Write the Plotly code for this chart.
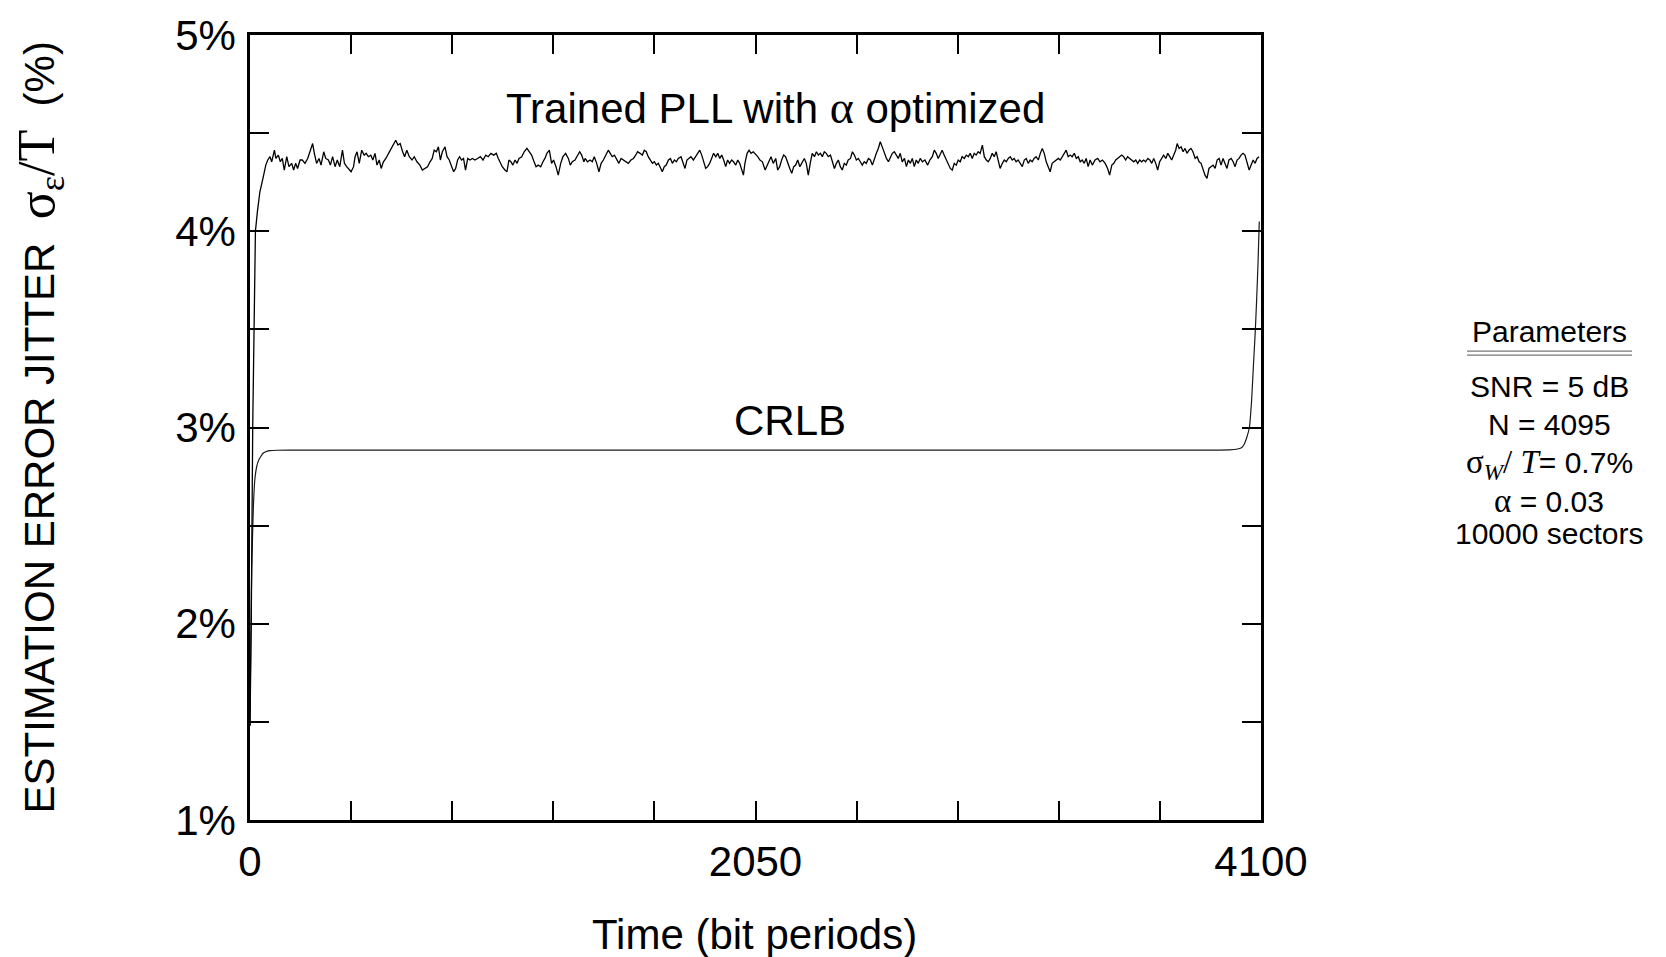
import plotly.graph_objects as go

# ---------------- data ----------------
pll_x = [
    0, 5, 11, 16, 22, 30, 40,
    54, 64, 72, 81, 88, 99, 105, 115, 123, 131,
    139, 149, 158, 169, 177, 185, 193, 203, 212, 223,
    234, 244, 254, 261, 270, 280, 288, 299, 307, 318,
    326, 335, 345, 354, 364, 375, 383, 392, 402, 410,
    420, 426, 434, 443, 453, 463, 471, 480, 490, 498,
    507, 515, 524, 532, 541, 551, 562, 572, 582, 591,
    600, 609, 619, 627, 636, 646, 657, 666, 677,
    689, 699, 710, 720, 730, 739, 747, 756, 764, 772,
    780, 791, 799, 808, 818, 826, 834, 842, 850, 858,
    866, 874, 883, 892, 902, 912, 923, 934, 945, 956,
    966, 977, 988, 999, 1007, 1015, 1023, 1034, 1042, 1050,
    1058, 1066, 1075, 1083, 1091, 1102, 1112, 1123, 1133, 1142,
    1152, 1160, 1169, 1179, 1188, 1196, 1204, 1214, 1223, 1231,
    1241, 1250, 1260, 1269, 1280, 1291, 1299, 1307, 1318, 1327,
    1337, 1345, 1354,
    1359, 1369, 1379, 1388, 1396, 1406, 1415, 1424, 1433, 1442,
    1453, 1461, 1469, 1478, 1487, 1496, 1505, 1514, 1524, 1534,
    1545, 1555, 1564, 1572, 1582, 1591, 1599, 1607, 1615, 1624,
    1632, 1640, 1648, 1656, 1664, 1672, 1680, 1688, 1697, 1705,
    1713, 1721, 1729, 1737, 1748, 1756, 1764, 1772, 1780, 1788,
    1798, 1807, 1815, 1824, 1832, 1840, 1848, 1856, 1864, 1872,
    1880, 1889, 1897, 1905, 1913, 1921, 1929, 1937, 1945, 1953,
    1961, 1970, 1978, 1986, 1994, 2001, 2007, 2016, 2024, 2032,
    2041,
    2048, 2059, 2068, 2078, 2089, 2097, 2105, 2113, 2122, 2132,
    2140, 2148, 2156, 2164, 2172, 2180, 2189, 2197, 2205, 2213,
    2221, 2230, 2240, 2248, 2256, 2264, 2272, 2280, 2289, 2297,
    2305, 2313, 2321, 2329, 2337, 2345, 2354, 2362, 2370, 2378,
    2386, 2394, 2402, 2410, 2418, 2426, 2435, 2443, 2451, 2459,
    2467, 2475, 2483, 2491, 2499, 2508, 2516, 2524, 2532, 2540,
    2548, 2556, 2564, 2572, 2581, 2589, 2597, 2605, 2613, 2621,
    2629, 2637, 2645, 2654, 2662, 2670, 2678, 2686, 2694, 2702,
    2710, 2718, 2727,
    2737, 2748, 2757, 2767, 2775, 2783, 2791, 2799, 2807, 2815,
    2824, 2832, 2840, 2848, 2856, 2864, 2872, 2880, 2888, 2897,
    2905, 2913, 2921, 2929, 2937, 2945, 2953, 2961, 2970, 2978,
    2986, 2994, 3002, 3010, 3018, 3026, 3034, 3042, 3051, 3059,
    3067, 3075, 3083, 3091, 3099, 3107, 3115, 3124, 3132, 3140,
    3148, 3156, 3164, 3172, 3180, 3188, 3197, 3205, 3213, 3221,
    3229, 3237, 3245, 3253, 3261, 3270, 3278, 3286, 3294, 3302,
    3310, 3318, 3326, 3334, 3343, 3351, 3359, 3367, 3375, 3383,
    3391, 3399, 3407, 3416,
    3427, 3438, 3447, 3457, 3468, 3478, 3486, 3495, 3503, 3511,
    3519, 3527, 3535, 3543, 3551, 3559, 3568, 3576, 3584, 3592,
    3600, 3608, 3616, 3624, 3632, 3641, 3649, 3657, 3665, 3673,
    3681, 3689, 3697, 3705, 3714, 3722, 3730, 3738, 3746, 3754,
    3760, 3768, 3776, 3784, 3792, 3800, 3808, 3816, 3824, 3833,
    3841, 3849, 3857, 3865, 3873, 3881, 3889, 3897, 3906, 3914,
    3922, 3930, 3938, 3946, 3954, 3962, 3970, 3979, 3987, 3995,
    4003, 4011, 4019, 4027, 4035, 4043, 4052, 4060, 4068, 4076,
    4084, 4092,
]

pll_y = [
    1.48, 2.0, 3.0, 3.5, 4.0, 4.1, 4.2,
    4.278, 4.337, 4.363, 4.38, 4.354, 4.413, 4.371, 4.388, 4.354, 4.371,
    4.312, 4.38, 4.329, 4.346, 4.312, 4.346, 4.32, 4.363, 4.363, 4.346,
    4.371, 4.405, 4.447, 4.397, 4.346, 4.371, 4.337, 4.405, 4.371, 4.363,
    4.337, 4.38, 4.329, 4.363, 4.329, 4.413, 4.346, 4.329, 4.312, 4.303,
    4.329, 4.38, 4.405, 4.346, 4.413, 4.388, 4.397, 4.38, 4.388, 4.363,
    4.397, 4.337, 4.363, 4.32, 4.354, 4.371, 4.397, 4.422, 4.439, 4.464,
    4.439, 4.447, 4.405, 4.38, 4.413, 4.38, 4.363, 4.38, 4.354,
    4.337, 4.312, 4.32, 4.329, 4.354, 4.371, 4.413, 4.405, 4.43, 4.363,
    4.405, 4.43, 4.38, 4.363, 4.329, 4.303, 4.32, 4.363, 4.38, 4.363,
    4.371, 4.312, 4.371, 4.363, 4.371, 4.363, 4.371, 4.38, 4.363, 4.388,
    4.38, 4.397, 4.388, 4.397, 4.371, 4.346, 4.329, 4.312, 4.303, 4.363,
    4.354, 4.337, 4.363, 4.346, 4.371, 4.38, 4.405, 4.422, 4.405, 4.388,
    4.354, 4.329, 4.337, 4.329, 4.354, 4.371, 4.397, 4.413, 4.346, 4.363,
    4.329, 4.286, 4.346, 4.38, 4.397, 4.371, 4.337, 4.354, 4.363, 4.38,
    4.405, 4.388, 4.354,
    4.371, 4.354, 4.363, 4.354, 4.38, 4.346, 4.303, 4.346, 4.363, 4.388,
    4.413, 4.397, 4.38, 4.388, 4.363, 4.346, 4.371, 4.363, 4.354, 4.346,
    4.363, 4.371, 4.388, 4.405, 4.397, 4.388, 4.413, 4.405, 4.38, 4.363,
    4.346, 4.354, 4.337, 4.346, 4.32, 4.303, 4.329, 4.337, 4.363, 4.371,
    4.346, 4.363, 4.354, 4.371, 4.38, 4.346, 4.32, 4.363, 4.371, 4.38,
    4.363, 4.38, 4.397, 4.413, 4.388, 4.354, 4.32, 4.329, 4.346, 4.371,
    4.397, 4.38, 4.397, 4.371, 4.388, 4.363, 4.329, 4.363, 4.346, 4.363,
    4.354, 4.337, 4.363, 4.346, 4.312, 4.286, 4.346, 4.397, 4.413, 4.397,
    4.405,
    4.397, 4.38, 4.363, 4.354, 4.312, 4.337, 4.363, 4.38, 4.346, 4.371,
    4.312, 4.329, 4.363, 4.388, 4.38, 4.346, 4.32, 4.295, 4.329, 4.337,
    4.363, 4.329, 4.354, 4.371, 4.346, 4.286, 4.346, 4.397, 4.38, 4.405,
    4.388, 4.397, 4.38, 4.405, 4.397, 4.38, 4.388, 4.346, 4.32, 4.346,
    4.363, 4.329, 4.312, 4.346, 4.337, 4.363, 4.371, 4.405, 4.388, 4.363,
    4.371, 4.354, 4.337, 4.354, 4.346, 4.371, 4.363, 4.337, 4.371, 4.397,
    4.422, 4.456, 4.43, 4.397, 4.371, 4.354, 4.38, 4.397, 4.405, 4.388,
    4.371, 4.397, 4.354, 4.371, 4.329, 4.363, 4.346, 4.371, 4.329, 4.363,
    4.346, 4.371, 4.354,
    4.363, 4.337, 4.363, 4.38, 4.413, 4.397, 4.371, 4.397, 4.413, 4.388,
    4.363, 4.346, 4.32, 4.312, 4.346, 4.337, 4.363, 4.354, 4.38, 4.371,
    4.388, 4.38, 4.397, 4.371, 4.397, 4.388, 4.405, 4.397, 4.439, 4.38,
    4.363, 4.354, 4.371, 4.397, 4.38, 4.405, 4.363, 4.32, 4.346, 4.363,
    4.354, 4.371, 4.38, 4.363, 4.371, 4.354, 4.363, 4.346, 4.329, 4.363,
    4.371, 4.346, 4.363, 4.354, 4.371, 4.38, 4.363, 4.397, 4.422, 4.397,
    4.354, 4.329, 4.303, 4.346, 4.354, 4.363, 4.371, 4.363, 4.38, 4.397,
    4.413, 4.38, 4.388, 4.38, 4.397, 4.371, 4.38, 4.354, 4.363, 4.346,
    4.371, 4.329, 4.363, 4.337,
    4.363, 4.371, 4.354, 4.363, 4.346, 4.32, 4.286, 4.337, 4.346, 4.363,
    4.371, 4.38, 4.388, 4.38, 4.363, 4.38, 4.371, 4.363, 4.354, 4.363,
    4.346, 4.363, 4.354, 4.363, 4.354, 4.371, 4.363, 4.346, 4.371, 4.346,
    4.312, 4.354, 4.371, 4.388, 4.371, 4.397, 4.38, 4.363, 4.388, 4.413,
    4.447, 4.422, 4.43, 4.405, 4.422, 4.397, 4.413, 4.422, 4.405, 4.371,
    4.38, 4.354, 4.346, 4.312, 4.286, 4.269, 4.32, 4.329, 4.337, 4.32,
    4.363, 4.371, 4.337, 4.371, 4.346, 4.32, 4.363, 4.371, 4.354, 4.329,
    4.363, 4.371, 4.388, 4.397, 4.388, 4.346, 4.312, 4.337, 4.363, 4.346,
    4.371, 4.38,
]

crlb_x = [0, 2, 4, 7, 13.5, 20, 27, 34, 45, 54, 68, 81, 110, 200,
          3900, 3974, 4000, 4021, 4032, 4042, 4053, 4062, 4069, 4076,
          4082, 4088, 4093]
crlb_y = [1.48, 1.75, 1.99, 2.28, 2.59, 2.74, 2.8, 2.83, 2.855, 2.87,
          2.878, 2.882, 2.884, 2.885,
          2.885, 2.886, 2.889, 2.897, 2.915, 2.948, 3.0, 3.14, 3.31, 3.47,
          3.64, 3.84, 4.05]

x_tick_vals = [0, 410, 820, 1230, 1640, 2050, 2460, 2870, 3280, 3690, 4100]
x_tick_text = ["0", "", "", "", "", "2050", "", "", "", "", "4100"]
y_tick_vals = [1, 1.5, 2, 2.5, 3, 3.5, 4, 4.5, 5]
y_tick_text = ["1%", "", "2%", "", "3%", "", "4%", "", "5%"]

SANS = "Liberation Sans, Arial, Helvetica, sans-serif"
SERIF = "Liberation Serif"

param_lines = [
    "SNR = 5 dB",
    "N = 4095",
    f"<span style='font-family:{SERIF};font-size:33px'>σ<sub><i>W</i></sub>/ <i>T</i></span>= 0.7%",
    f"<span style='font-family:{SERIF};font-size:33px'>α</span> = 0.03",
    "10000 sectors",
]
param_y = [0.5527, 0.5044, 0.4531, 0.4069, 0.3647]

assert len(pll_x) == len(pll_y), (len(pll_x), len(pll_y))
assert len(crlb_x) == len(crlb_y), (len(crlb_x), len(crlb_y))

fig = go.Figure()
fig.add_trace(go.Scatter(x=crlb_x, y=crlb_y, mode="lines",
                         line=dict(color="#1a1a1a", width=1.2, shape="spline", smoothing=0.5),
                         hoverinfo="skip"))
fig.add_trace(go.Scatter(x=pll_x, y=pll_y, mode="lines",
                         line=dict(color="black", width=1.3),
                         hoverinfo="skip"))

axis_common = dict(
    ticks="inside", ticklen=19, tickwidth=2, tickcolor="black",
    showline=True, linewidth=2.5, linecolor="black", mirror="ticks",
    showgrid=False, zeroline=False,
    tickfont=dict(family=SANS, size=42, color="black"),
)

fig.update_layout(
    width=1666, height=957,
    margin=dict(l=250, r=405, t=33, b=137),
    paper_bgcolor="white", plot_bgcolor="white",
    showlegend=False,
    font=dict(family=SANS, size=42, color="black"),
    xaxis=dict(range=[0, 4100], tickmode="array", tickvals=x_tick_vals,
               ticktext=x_tick_text, ticklabelstandoff=3, **axis_common),
    yaxis=dict(range=[1, 5], tickmode="array", tickvals=y_tick_vals,
               ticktext=y_tick_text, ticklabelstandoff=3, **axis_common),
)

annotations = [
    dict(x=2133, y=4.629, xref="x", yref="y", showarrow=False,
         text=f"Trained PLL with <span style='font-family:{SERIF};font-size:46px'>α</span> optimized",
         font=dict(size=42)),
    dict(x=2188, y=3.038, xref="x", yref="y", showarrow=False,
         text="CRLB", font=dict(size=42)),
    dict(x=0.499, y=-0.146, xref="paper", yref="paper", showarrow=False,
         text="Time (bit periods)", font=dict(size=42),
         xanchor="center", yanchor="middle"),
    dict(x=-0.2077, y=0.5, xref="paper", yref="paper", showarrow=False,
         textangle=-90, xanchor="center", yanchor="middle",
         text=(f"ESTIMATION ERROR JITTER&nbsp;&nbsp;<span style='font-family:{SERIF};font-size:52px'>"
               f"σ<sub>ε</sub>/T</span>&nbsp;&nbsp;(%)"),
         font=dict(size=42)),
    dict(x=1.285, y=0.6226, xref="paper", yref="paper", showarrow=False,
         text="Parameters", font=dict(size=30), xanchor="center", yanchor="middle"),
]
for txt, yy in zip(param_lines, param_y):
    annotations.append(dict(x=1.285, y=yy, xref="paper", yref="paper", showarrow=False,
                            text=txt, font=dict(size=30),
                            xanchor="center", yanchor="middle"))
fig.update_layout(annotations=annotations)

for yy in (0.5972, 0.5921):
    fig.add_shape(type="line", xref="paper", yref="paper",
                  x0=1.2038, x1=1.367, y0=yy, y1=yy,
                  line=dict(color="#777777", width=1.2))

fig.write_html("out.html")
